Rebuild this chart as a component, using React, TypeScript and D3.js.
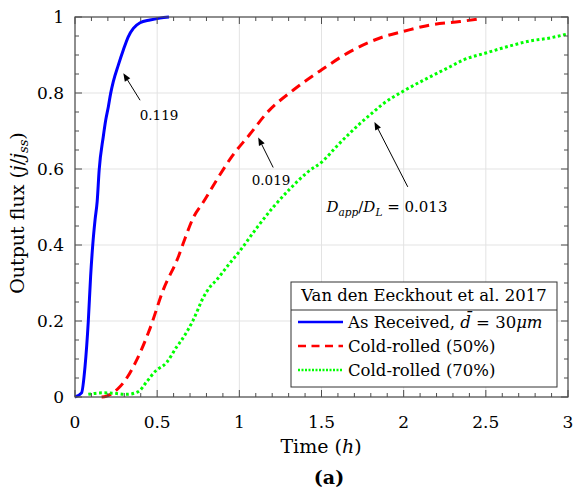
import React from "react";
import * as d3 from "d3";

const blueT = [0, 0.04, 0.061, 0.081, 0.095, 0.108, 0.122, 0.135, 0.147, 0.172, 0.187, 0.203, 0.217, 0.233, 0.264, 0.294, 0.324, 0.355, 0.396, 0.456, 0.517, 0.572];
const blueV = [0, 0.011, 0.08, 0.2, 0.317, 0.4, 0.466, 0.515, 0.597, 0.685, 0.729, 0.764, 0.799, 0.83, 0.874, 0.913, 0.948, 0.97, 0.985, 0.992, 0.997, 1.0];

const redT = [0.162, 0.19, 0.264, 0.315, 0.375, 0.456, 0.537, 0.629, 0.67, 0.72, 0.781, 0.862, 0.953, 1.065, 1.166, 1.329, 1.501, 1.674, 1.877, 1.998, 2.161, 2.343, 2.455];
const redV = [0, 0.002, 0.023, 0.05, 0.097, 0.18, 0.282, 0.369, 0.418, 0.472, 0.513, 0.571, 0.632, 0.692, 0.747, 0.808, 0.861, 0.909, 0.948, 0.962, 0.979, 0.988, 0.995];

const greenT = [0.081, 0.172, 0.233, 0.315, 0.385, 0.436, 0.487, 0.558, 0.619, 0.649, 0.72, 0.781, 0.822, 0.862, 0.923, 1.004, 1.106, 1.207, 1.309, 1.41, 1.511, 1.593, 1.674, 1.735, 1.816, 1.877, 1.998, 2.14, 2.282, 2.363, 2.506, 2.648, 2.769, 2.891, 2.993];
const greenV = [0.007, 0.011, 0.01, 0.007, 0.014, 0.04, 0.067, 0.091, 0.132, 0.15, 0.203, 0.262, 0.29, 0.308, 0.342, 0.385, 0.445, 0.5, 0.548, 0.59, 0.622, 0.66, 0.695, 0.72, 0.75, 0.772, 0.805, 0.838, 0.869, 0.887, 0.906, 0.924, 0.937, 0.945, 0.955];

const xTicks = [0, 0.5, 1, 1.5, 2, 2.5, 3];
const xTickLabels = ["0", "0.5", "1", "1.5", "2", "2.5", "3"];
const yTicks = [0, 0.2, 0.4, 0.6, 0.8, 1];
const yTickLabels = ["0", "0.2", "0.4", "0.6", "0.8", "1"];

const legendTitle = "Van den Eeckhout et al. 2017";

// annotations: [headT, headV, tailT, tailV]
const ann119 = [0.294, 0.852, 0.396, 0.781];
const ann019 = [1.115, 0.683, 1.206, 0.604];
const ann013 = [1.822, 0.724, 2.025, 0.553];

const FONT = "'DejaVu Serif', serif";

const L = 75, R = 568, T = 17, B = 397;

export default function App() {
  const x = d3.scaleLinear().domain([0, 3]).range([L, R]);
  const y = d3.scaleLinear().domain([0, 1]).range([B, T]);
  const line = d3.line<[number, number]>().x(d => x(d[0])).y(d => y(d[1])).curve(d3.curveMonotoneX);
  const mk = (ts: number[], vs: number[]) => line(ts.map((t, i) => [t, vs[i]] as [number, number])) || "";

  const xMinor = d3.range(0, 3.0001, 0.1);
  const yMinor = d3.range(0, 1.0001, 0.05);

  const axisColor = "#4d4d4d";

  const arrow = (a: number[], key: string) => {
    const hx = x(a[0]), hy = y(a[1]), tx = x(a[2]), ty = y(a[3]);
    const ang = Math.atan2(hy - ty, hx - tx);
    const len = 8, w = 3.2;
    const bx = hx - len * Math.cos(ang), by = hy - len * Math.sin(ang);
    const p1 = [bx + w * Math.sin(ang), by - w * Math.cos(ang)];
    const p2 = [bx - w * Math.sin(ang), by + w * Math.cos(ang)];
    return (
      <g key={key}>
        <line x1={tx} y1={ty} x2={bx} y2={by} stroke="#000" strokeWidth={1} />
        <path d={`M${hx},${hy}L${p1[0]},${p1[1]}L${p2[0]},${p2[1]}Z`} fill="#000" />
      </g>
    );
  };

  const legX = 291, legY = 282, legW = 266, legH = 105;

  return (
    <svg width={573} height={496} style={{ position: "absolute", left: 0, top: 0 }} fontFamily={FONT}>
      <rect width={573} height={496} fill="#fff" />
      {/* grid */}
      {xTicks.map((t, i) => (
        <line key={"gx" + i} x1={x(t)} x2={x(t)} y1={T} y2={B} stroke="#e3e3e3" strokeWidth={1} />
      ))}
      {yTicks.map((t, i) => (
        <line key={"gy" + i} x1={L} x2={R} y1={y(t)} y2={y(t)} stroke="#e3e3e3" strokeWidth={1} />
      ))}
      {/* curves */}
      <path d={mk(redT, redV)} fill="none" stroke="#ff0000" strokeWidth={3} strokeDasharray="10,6" />
      <path d={mk(greenT, greenV)} fill="none" stroke="#00ff00" strokeWidth={3} strokeDasharray="2.8,2.6" />
      <path d={mk(blueT, blueV)} fill="none" stroke="#0000ff" strokeWidth={3} strokeLinejoin="round" />
      {/* axes box */}
      <rect x={L} y={T} width={R - L} height={B - T} fill="none" stroke={axisColor} strokeWidth={1.2} />
      {xMinor.map((t, i) => {
        const major = Math.abs(t * 2 - Math.round(t * 2)) < 1e-6;
        const l = major ? 7 : 4;
        return (
          <g key={"xt" + i}>
            <line x1={x(t)} x2={x(t)} y1={B} y2={B - l} stroke={axisColor} strokeWidth={1} />
            <line x1={x(t)} x2={x(t)} y1={T} y2={T + l} stroke={axisColor} strokeWidth={1} />
          </g>
        );
      })}
      {yMinor.map((t, i) => {
        const major = Math.abs(t * 5 - Math.round(t * 5)) < 1e-6;
        const l = major ? 7 : 4;
        return (
          <g key={"yt" + i}>
            <line x1={L} x2={L + l} y1={y(t)} y2={y(t)} stroke={axisColor} strokeWidth={1} />
            <line x1={R} x2={R - l} y1={y(t)} y2={y(t)} stroke={axisColor} strokeWidth={1} />
          </g>
        );
      })}
      {xTicks.map((t, i) => (
        <text key={"xl" + i} x={x(t)} y={428} textAnchor="middle" fontSize={17} fill="#000">{xTickLabels[i]}</text>
      ))}
      {yTicks.map((t, i) => (
        <text key={"yl" + i} x={64} y={y(t) + 6} textAnchor="end" fontSize={17} fill="#000">{yTickLabels[i]}</text>
      ))}
      {/* axis labels */}
      <text x={321} y={453} textAnchor="middle" fontSize={19} fill="#000">
        Time (<tspan fontStyle="italic">h</tspan>)
      </text>
      <text transform="translate(24,213) rotate(-90)" textAnchor="middle" fontSize={19} fill="#000">
        Output flux (<tspan fontStyle="italic">j</tspan>/<tspan fontStyle="italic">j</tspan><tspan fontStyle="italic" fontSize={13} dy={4}>ss</tspan><tspan dy={-4}>)</tspan>
      </text>
      <text x={329} y={484} textAnchor="middle" fontSize={19} fontWeight="bold" fill="#000">(a)</text>
      {/* annotations */}
      {arrow(ann119, "a1")}
      {arrow(ann019, "a2")}
      {arrow(ann013, "a3")}
      <text x={159} y={120} textAnchor="middle" fontSize={13.5} fill="#000">0.119</text>
      <text x={271} y={185} textAnchor="middle" fontSize={13.5} fill="#000">0.019</text>
      <text x={387} y={212} textAnchor="middle" fontSize={15} fill="#000">
        <tspan fontStyle="italic">D</tspan><tspan fontStyle="italic" fontSize={10.5} dy={4}>app</tspan><tspan dy={-4}>/</tspan><tspan fontStyle="italic">D</tspan><tspan fontStyle="italic" fontSize={10.5} dy={4}>L</tspan><tspan dy={-4}> = 0.013</tspan>
      </text>
      {/* legend */}
      <rect x={legX} y={legY} width={legW} height={legH} fill="#fff" stroke="#333" strokeWidth={1} />
      <line x1={legX} x2={legX + legW} y1={310} y2={310} stroke="#333" strokeWidth={1} />
      <text x={legX + legW / 2} y={301} textAnchor="middle" fontSize={16.5} fill="#000">{legendTitle}</text>
      <line x1={298} x2={343} y1={322} y2={322} stroke="#0000ff" strokeWidth={2.5} />
      <line x1={298} x2={343} y1={346} y2={346} stroke="#ff0000" strokeWidth={2.5} strokeDasharray="8,5.5" />
      <line x1={298} x2={343} y1={370} y2={370} stroke="#00ff00" strokeWidth={2.5} strokeDasharray="2,1.5" />
      <text x={348} y={327.5} fontSize={16.5} fill="#000">
        As Received, <tspan fontStyle="italic">d̄</tspan> = 30<tspan fontStyle="italic">μm</tspan>
      </text>
      <text x={348} y={351.5} fontSize={16.5} fill="#000">Cold-rolled (50%)</text>
      <text x={348} y={375.5} fontSize={16.5} fill="#000">Cold-rolled (70%)</text>
    </svg>
  );
}
